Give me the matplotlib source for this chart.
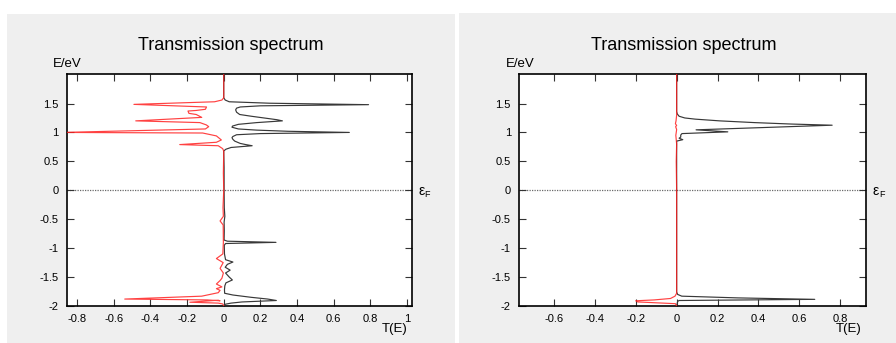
import numpy as np
import matplotlib
matplotlib.use("Agg")
import matplotlib.pyplot as plt
from matplotlib.patches import Rectangle

plt.rcParams['font.family'] = ['Liberation Sans', 'DejaVu Sans']
plt.rcParams['axes.unicode_minus'] = False

# ---------------- data ----------------
title_text = "Transmission spectrum"

# Left panel, spin-up (positive, black)
left_up_E = [2.0, 1.60, 1.56, 1.53, 1.505, 1.48, 1.46, 1.44, 1.42, 1.39, 1.35, 1.31, 1.28, 1.25,
             1.22, 1.20, 1.17, 1.14, 1.11, 1.09, 1.06, 1.04, 1.02, 1.00, 0.98, 0.96, 0.93,
             0.91, 0.88, 0.85, 0.81, 0.79, 0.77, 0.74, 0.71, 0.68, 0.40, 0.0, -0.3, -0.45,
             -0.55, -0.7, -0.86, -0.88, -0.90, -0.92, -0.95, -1.10, -1.20, -1.24, -1.28,
             -1.33, -1.38, -1.43, -1.50, -1.55, -1.60, -1.65, -1.72, -1.78, -1.81, -1.85,
             -1.88, -1.905, -1.93, -1.95, -1.97, -2.0]
left_up_T = [0.0, 0.0, 0.008, 0.03, 0.25, 0.79, 0.20, 0.09, 0.07, 0.065, 0.07, 0.087, 0.15, 0.22,
             0.29, 0.32, 0.18, 0.08, 0.048, 0.045, 0.08, 0.18, 0.35, 0.685, 0.20, 0.07, 0.05,
             0.045, 0.05, 0.06, 0.09, 0.12, 0.155, 0.04, 0.012, 0.0, 0.002, 0.002, 0.003, 0.006,
             0.002, 0.003, 0.002, 0.02, 0.285, 0.01, 0.003, 0.004, 0.01, 0.05, 0.02,
             0.008, 0.035, 0.01, 0.03, 0.047, 0.012, 0.006, 0.004, 0.005, 0.05, 0.15,
             0.24, 0.287, 0.10, 0.04, 0.008, 0.0]

# Left panel, spin-down (negative, red)
left_dn_E = [2.0, 1.60, 1.56, 1.53, 1.485, 1.44, 1.40, 1.38, 1.37, 1.33, 1.31, 1.26, 1.20,
             1.17, 1.13, 1.10, 1.06, 1.00, 0.99, 0.94, 0.87, 0.83, 0.79, 0.77, 0.72, 0.68,
             0.3, 0.0, -0.3, -0.45, -0.53, -0.6, -0.9, -1.1, -1.18, -1.25, -1.35, -1.43,
             -1.52, -1.56, -1.62, -1.67, -1.70, -1.73, -1.77, -1.83, -1.88, -1.895, -1.91,
             -1.90, -1.935, -1.95, -1.965, -2.0]
left_dn_T = [0.0, 0.0, -0.01, -0.05, -0.49, -0.094, -0.10, -0.15, -0.195, -0.19, -0.15, -0.12, -0.48,
             -0.13, -0.095, -0.082, -0.10, -0.88, -0.115, -0.04, -0.013, -0.04, -0.24, -0.03, -0.006, 0.0,
             -0.002, 0.0, -0.004, -0.002, -0.02, -0.003, -0.002, -0.005, -0.04, -0.003, -0.02, -0.002,
             -0.01, -0.02, -0.04, -0.01, -0.04, -0.02, -0.03, -0.12, -0.54, -0.09, -0.02,
             -0.03, -0.185, -0.03, -0.005, 0.0]

# Right panel, spin-up (positive, black)
right_up_E = [2.0, 1.36, 1.32, 1.28, 1.25, 1.23, 1.20, 1.17, 1.145, 1.125, 1.045, 1.01, 0.98,
              0.955, 0.92, 0.90, 0.875, 0.85, 0.5, 0.0, -1.0, -1.76, -1.80, -1.83, -1.86,
              -1.885, -1.905, -1.92, -2.0]
right_up_T = [0.0, 0.0, 0.003, 0.012, 0.04, 0.09, 0.21, 0.38, 0.56, 0.76, 0.095, 0.25, 0.026,
              0.02, 0.02, 0.012, 0.03, 0.0, 0.0, 0.0, 0.0, 0.0, 0.005, 0.025, 0.30,
              0.675, 0.012, 0.005, 0.0]

# Right panel, spin-down (negative, red)
right_dn_E = [2.0, 1.3, 1.2, 1.15, 1.12, 1.10, 1.05, 0.95, 0.8, 0.5, 0.0, -1.0, -1.78,
              -1.83, -1.87, -1.895, -1.91, -1.93, -1.96, -2.0]
right_dn_T = [0.0, 0.0, -0.003, -0.006, 0.0, -0.005, 0.0, -0.004, 0.0, -0.002, 0.0, 0.0, 0.0,
              -0.008, -0.03, -0.11, -0.20, -0.19, -0.006, 0.0]

left_xticks = [-0.8, -0.6, -0.4, -0.2, 0, 0.2, 0.4, 0.6, 0.8, 1]
left_xlabels = ["-0.8", "-0.6", "-0.4", "-0.2", "0", "0.2", "0.4", "0.6", "0.8", "1"]
right_xticks = [-0.6, -0.4, -0.2, 0, 0.2, 0.4, 0.6, 0.8]
right_xlabels = ["-0.6", "-0.4", "-0.2", "0", "0.2", "0.4", "0.6", "0.8"]
yticks = [-2, -1.5, -1, -0.5, 0, 0.5, 1, 1.5]
ylabels = ["-2", "-1.5", "-1", "-0.5", "0", "0.5", "1", "1.5"]

# ---------------- figure ----------------
W, H = 896, 343
fig = plt.figure(figsize=(W / 100, H / 100), dpi=100)
fig.patch.set_facecolor('white')

def fx(x):
    return x / W

def fy(y):
    return 1 - y / H

# gray panel backgrounds
fig.patches.append(Rectangle((fx(7), 0), fx(455) - fx(7), fy(14), transform=fig.transFigure,
                             facecolor='#efefef', edgecolor='none', zorder=-10))
fig.patches.append(Rectangle((fx(459), 0), fx(896) - fx(459), fy(13), transform=fig.transFigure,
                             facecolor='#efefef', edgecolor='none', zorder=-10))

panels = [
    dict(box=(67, 74, 412, 306), xlim=(-0.855, 1.027), xt=left_xticks, xl=left_xlabels,
         up=(left_up_T, left_up_E), dn=(left_dn_T, left_dn_E), title_x=231, te_x=395, ef_x=418,
         ev_x=67.5),
    dict(box=(519.3, 74, 865.7, 306), xlim=(-0.769, 0.924), xt=right_xticks, xl=right_xlabels,
         up=(right_up_T, right_up_E), dn=(right_dn_T, right_dn_E), title_x=684, te_x=849, ef_x=872.5,
         ev_x=520),
]

for p in panels:
    x0, y0, x1, y1 = p['box']
    ax = fig.add_axes([fx(x0), fy(y1), fx(x1) - fx(x0), fy(y0) - fy(y1)])
    ax.set_facecolor('white')
    ax.set_xlim(*p['xlim'])
    ax.set_ylim(-2.0, 2.01)
    ax.axhline(0, color='#6a6a6a', lw=0.9, ls=(0, (1, 1)), zorder=1)
    ax.plot(p['up'][0], p['up'][1], color='#383838', lw=0.85, zorder=3)
    ax.plot(p['dn'][0], p['dn'][1], color='#ff2020', lw=0.85, alpha=0.85, zorder=4)
    ax.set_xticks(p['xt'])
    ax.set_xticklabels(p['xl'])
    ax.set_yticks(yticks)
    ax.set_yticklabels(ylabels)
    ax.tick_params(direction='in', top=True, right=True, length=5, width=0.8,
                   labelsize=8, pad=6, color='#333333')
    for s in ax.spines.values():
        s.set_linewidth(1.2)
        s.set_color('black')
    fig.text(fx(p['title_x']), fy(45.5), title_text, ha='center', va='center', fontsize=13)
    fig.text(fx(p['ev_x']), fy(64), "E/eV", ha='center', va='center', fontsize=9.5)
    fig.text(fx(p['te_x']), fy(329), "T(E)", ha='center', va='center', fontsize=9.5)
    fig.text(fx(p['ef_x']), fy(191), "ε", ha='left', va='center', fontsize=10)
    fig.text(fx(p['ef_x'] + 6.5), fy(194.5), "F", ha='left', va='center', fontsize=6.5)

fig.savefig("out.png", dpi=100, facecolor=fig.get_facecolor())
